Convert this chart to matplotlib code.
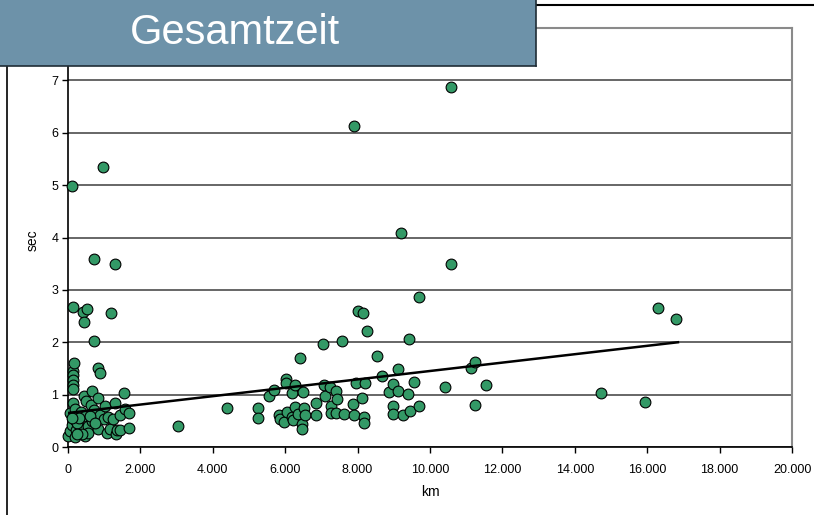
import matplotlib
matplotlib.use("Agg")
import matplotlib.pyplot as plt
from matplotlib.patches import Rectangle
from matplotlib.lines import Line2D
from matplotlib.ticker import FuncFormatter

plt.rcParams['font.family'] = ['Liberation Sans', 'DejaVu Sans']

title = "Gesamtzeit"
x_label = "km"
y_label = "sec"

km = [0, 55, 55, 110, 110, 140, 140, 140, 140, 140, 140, 140, 165, 190, 190, 190, 220,
      330, 360, 410, 440, 440, 470, 470, 500, 525, 550, 550, 640, 660, 660, 720, 720, 720,
      830, 880, 830, 830, 880, 967, 990, 1020, 1080, 1100, 1160, 1190, 1240, 1300, 1300,
      1330, 1350, 1440, 1440, 1550, 1570, 1680, 1680,
      260, 300, 380, 600, 750, 100, 250,
      3040, 4400, 5250, 5250, 5550, 5690, 5830, 5860, 5970, 6020, 6020, 6050, 6190, 6190,
      6220, 6270, 6270, 6350, 6410, 6460, 6460, 6490, 6520, 6550, 6850, 6850, 7040, 7070,
      7100, 7240, 7260, 7260, 7400, 7400, 7430, 7570, 7620, 7870, 7900, 7900, 7960, 8010,
      8120, 8150, 8180, 8180, 8200, 8260, 8540, 8680, 8870, 8980, 8980, 8980, 9120, 9120,
      9200, 9250, 9390, 9420, 9450, 9560, 9700, 9700, 10410, 10580, 10580, 11130, 11240,
      11550, 11240, 14720, 15940, 16300, 16800]
sec = [0.21, 0.30, 0.65, 0.42, 4.98, 2.68, 1.46, 1.37, 1.27, 1.18, 1.10, 0.84, 1.60, 0.72,
       0.51, 0.19, 0.32, 0.38, 0.67, 2.57, 2.38, 0.97, 0.59, 0.21, 0.87, 2.63, 0.40, 0.27,
       0.80, 1.06, 0.49, 3.59, 2.02, 0.70, 1.50, 1.42, 0.93, 0.34, 0.61, 5.34, 0.53, 0.78,
       0.27, 0.57, 0.34, 2.56, 0.53, 3.50, 0.84, 0.25, 0.32, 0.61, 0.32, 1.03, 0.72, 0.65,
       0.36,
       0.45, 0.55, 0.25, 0.60, 0.45, 0.55, 0.25,
       0.40, 0.74, 0.74, 0.55, 0.97, 1.08, 0.61, 0.53, 0.48, 1.29, 1.23, 0.67, 1.03, 0.57,
       0.51, 1.18, 0.76, 0.63, 1.70, 0.44, 0.34, 1.05, 0.74, 0.61, 0.84, 0.61, 1.96, 1.18,
       0.97, 1.14, 0.78, 0.65, 1.07, 0.65, 0.91, 2.02, 0.63, 0.83, 0.61, 6.12, 1.23, 2.60,
       0.93, 2.55, 0.57, 0.46, 1.22, 2.21, 1.73, 1.35, 1.05, 1.20, 0.78, 0.63, 1.48, 1.07,
       4.09, 0.61, 1.01, 2.07, 0.68, 1.25, 2.87, 0.78, 1.14, 6.88, 3.50, 1.50, 1.63,
       1.18, 0.80, 1.04, 0.85, 2.66, 2.45]

trend_x = [0, 16850]
trend_y = [0.65, 2.00]

x_ticks = [0, 2000, 4000, 6000, 8000, 10000, 12000, 14000, 16000, 18000, 20000]
y_ticks = [0, 1, 2, 3, 4, 5, 6, 7]

W, H = 814, 515
fig = plt.figure(figsize=(W / 100, H / 100), dpi=100)
ax = fig.add_axes([68 / W, 1 - 447 / H, (792 - 68) / W, (447 - 28) / H])

ax.set_xlim(0, 20000)
ax.set_ylim(0, 8)
ax.set_xticks(x_ticks)
ax.set_yticks(y_ticks)
ax.xaxis.set_major_formatter(FuncFormatter(lambda v, p: f"{int(v):,}".replace(",", ".")))
ax.tick_params(axis='both', labelsize=9, length=4, width=1, color='black', pad=3)
ax.tick_params(axis='x', pad=8)
ax.grid(axis='y', color='#666666', linewidth=1.4)
ax.set_axisbelow(True)
for s in ['left', 'bottom']:
    ax.spines[s].set_color('black')
    ax.spines[s].set_linewidth(1.2)
for s in ['top', 'right']:
    ax.spines[s].set_color('#8a8a8a')
    ax.spines[s].set_linewidth(1.5)

ax.scatter(km, sec, s=60, facecolor='#339966', edgecolor='black', linewidth=0.8, zorder=3,
           clip_on=False)
ax.plot(trend_x, trend_y, color='black', linewidth=1.8, zorder=4)

fig.text(430 / W, 1 - 492 / H, x_label, ha='center', va='center', fontsize=10)
fig.text(33 / W, 1 - 240 / H, y_label, ha='center', va='center', fontsize=10, rotation=90)

# outer frame lines
fig.add_artist(Line2D([7 / W, 7 / W], [0, 1 - 66 / H], color='black', linewidth=1.2,
                      transform=fig.transFigure))
fig.add_artist(Line2D([536 / W, 1], [1 - 5 / H, 1 - 5 / H], color='black', linewidth=1.5,
                      transform=fig.transFigure))

# title box
fig.add_artist(Rectangle((0, 1 - 66 / H), 536 / W, 66 / H, transform=fig.transFigure,
                         facecolor='#6d92a9', edgecolor='none', zorder=10))
fig.add_artist(Line2D([0, 536 / W], [1 - 65.5 / H, 1 - 65.5 / H], color='#1f2d36',
                      linewidth=1.2, transform=fig.transFigure, zorder=11))
fig.add_artist(Line2D([535.5 / W, 535.5 / W], [1 - 66 / H, 1], color='#1f2d36',
                      linewidth=1.2, transform=fig.transFigure, zorder=11))
fig.text(235 / W, 1 - 44 / H, title, ha='center', va='baseline', fontsize=30,
         color='white', zorder=12)

fig.savefig("out.png", dpi=100)
